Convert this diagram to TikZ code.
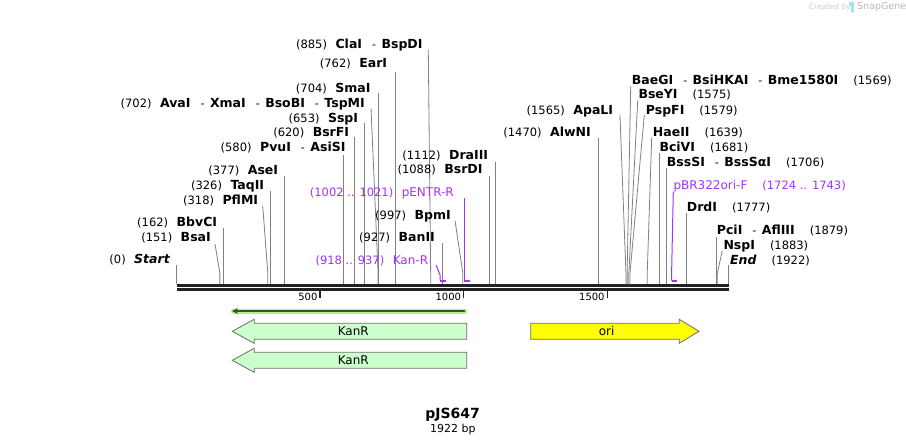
\documentclass[tikz,border=0pt]{standalone}
\usepackage{fontspec}
\setmainfont{DejaVu Sans}
\usetikzlibrary{arrows.meta}
\definecolor{primer}{RGB}{160,50,250}
\definecolor{kanfill}{RGB}{204,255,204}
\definecolor{orifill}{RGB}{255,255,0}
\definecolor{bone}{RGB}{34,34,34}
\definecolor{sitegray}{RGB}{128,128,128}
\definecolor{featedge}{RGB}{110,110,110}
\definecolor{halo}{RGB}{180,240,130}
\definecolor{darkleaf}{RGB}{64,80,56}
\newcommand{\ps}[1]{{\fontsize{11.5}{13}\selectfont(#1)}}
\newcommand{\enz}[1]{{\fontsize{12.5}{14}\selectfont\bfseries #1}}
\newcommand{\enzsep}{\hspace{10pt}-\hspace{5.5pt}}
\newcommand{\lgap}{\hspace{8.5pt}}
\newcommand{\rgap}{\hspace{15pt}}

\begin{document}
\begin{tikzpicture}[x=1pt, y=-1pt,
    site/.style={draw=sitegray, line width=0.8pt},
    lbl/.style={inner sep=0pt, font=\fontsize{11}{13}\selectfont},
    plabel/.style={lbl, text=primer},
    primerline/.style={draw=primer, line width=1pt},
    primerbar/.style={draw=primer, line width=2pt},
    feat/.style={draw=featedge, line width=0.8pt},
    tickmark/.style={draw=bone, line width=1.4pt}]
\useasboundingbox (0,0) rectangle (906,445);

% backbone
\draw[bone, line width=3pt] (176.5,285.8) -- (729,285.8);
\draw[bone, line width=2.4pt] (176.5,289.5) -- (729,289.5);
\foreach \v in {500,1000,1500}{
    \pgfmathsetmacro{\X}{176.5+0.2872*\v}
    \coordinate (k\v) at (\X,290.7);
    \draw[tickmark] (k\v) -- ++(0,7);
    \node[lbl, font=\fontsize{10}{12}\selectfont, anchor=east] (n\v) at (\X-2.5,296.7) {\v};
}

% sites, label on the left
\foreach \b/\dx/\yt/\rx/\cy/\t in {
    0/0/265/170/259.3/{\ps{0}\lgap\enz{\itshape Start}},
    151/-4.9/244/211/237.3/{\ps{151}\lgap\enz{BsaI}},
    162/0/228/217.3/221.7/{\ps{162}\lgap\enz{BbvCI}},
    318/-5.1/206/258.3/200/{\ps{318}\lgap\enz{PflMI}},
    326/0/191/264.3/185/{\ps{326}\lgap\enz{TaqII}},
    377/0/176/278.3/170/{\ps{377}\lgap\enz{AseI}},
    580/0/155/345.7/146.7/{\ps{580}\lgap\enz{PvuI}\enzsep\enz{AsiSI}},
    620/0/137.3/349.3/131.7/{\ps{620}\lgap\enz{BsrFI}},
    653/0/123.3/358.3/118.3/{\ps{653}\lgap\enz{SspI}},
    702/-7.1/108.3/365/103.3/{\ps{702}\lgap\enz{AvaI}\enzsep\enz{XmaI}\enzsep\enz{BsoBI}\enzsep\enz{TspMI}},
    704/0/93.3/370.7/88.3/{\ps{704}\lgap\enz{SmaI}},
    762/0/71.7/387.3/63.3/{\ps{762}\lgap\enz{EarI}},
    885/-2.4/49.3/422.7/44/{\ps{885}\lgap\enz{ClaI}\enzsep\enz{BspDI}},
    927/0/243.3/435/237.3/{\ps{927}\lgap\enz{BanII}},
    997/-7.8/220.7/451/215/{\ps{997}\lgap\enz{BpmI}},
    1088/0/176/482.7/169/{\ps{1088}\lgap\enz{BsrDI}},
    1112/0/161.7/488.3/155/{\ps{1112}\lgap\enz{DraIII}},
    1470/0/138.3/591/131.7/{\ps{1470}\lgap\enz{AlwNI}},
    1565/-6/115/613.3/110/{\ps{1565}\lgap\enz{ApaLI}}}{
    \pgfmathsetmacro{\X}{176.5+0.2872*\b}
    \node[lbl, anchor=base east] (l\b) at (\rx,\cy+4.4) {\t};
    \coordinate (s\b) at (\X,284.3);
    \coordinate (t\b) at ({\X+(\dx)},\yt);
    \draw[site] (t\b) -- ([yshift=11pt]s\b) -- (s\b);
}

% sites, label on the right
\foreach \b/\dx/\yt/\lx/\cy/\t in {
    1569/3.6/86/631.7/80/{\enz{BaeGI}\enzsep\enz{BsiHKAI}\enzsep\enz{Bme1580I}\rgap\ps{1569}},
    1575/8.9/100/638.3/94.3/{\enz{BseYI}\rgap\ps{1575}},
    1579/14.3/115/645.7/110/{\enz{PspFI}\rgap\ps{1579}},
    1639/4.5/137.3/652.7/131.7/{\enz{HaeII}\rgap\ps{1639}},
    1681/0/153.3/659.3/146.7/{\enz{BciVI}\rgap\ps{1681}},
    1706/0/168.3/666.7/161.7/{\enz{BssSI}\enzsep\enz{BssSαI}\rgap\ps{1706}},
    1777/0/212.7/686.7/206.7/{\enz{DrdI}\rgap\ps{1777}},
    1879/0/236.7/716.7/230/{\enz{PciI}\enzsep\enz{AflIII}\rgap\ps{1879}},
    1883/5/250.7/723.3/245/{\enz{NspI}\rgap\ps{1883}},
    1922/0/265/730/260/{\enz{\itshape End}\rgap\ps{1922}}}{
    \pgfmathsetmacro{\X}{176.5+0.2872*\b}
    \node[lbl, anchor=base west] (l\b) at (\lx,\cy+4.4) {\t};
    \coordinate (s\b) at (\X,284.3);
    \coordinate (t\b) at ({\X+(\dx)},\yt);
    \draw[site] (t\b) -- ([yshift=11pt]s\b) -- (s\b);
}

% primers
\node[plabel, anchor=base east] (pkan) at (428.3,264.4) {\ps{918 .. 937}\lgap{\fontsize{12}{14}\selectfont Kan-R}};
\coordinate (kana) at (440.1,280.7);
\coordinate (kanb) at (445.6,280.7);
\draw[primerline] (436,265) -- (440.1,275) -- (kana);
\draw[primerbar] (kana) -- (kanb);

\node[plabel, anchor=base east] (pentr) at (454,196.1) {\ps{1002 .. 1021}\lgap{\fontsize{12}{14}\selectfont pENTR-R}};
\coordinate (pentra) at (464.3,280.7);
\coordinate (pentrb) at (469.7,280.7);
\draw[primerline] (464.3,198.3) -- (pentra);
\draw[primerbar] (pentra) -- (pentrb);

\node[plabel, anchor=base west] (pbr) at (673.3,189.4) {{\fontsize{12}{14}\selectfont pBR322ori-F}\rgap\ps{1724 .. 1743}};
\coordinate (pbra) at (671.6,280.7);
\coordinate (pbrb) at (677.1,280.7);
\draw[primerline] (673.3,191.7) -- (671.6,273.3) -- (pbra);
\draw[primerbar] (pbra) -- (pbrb);

% features
\draw[halo, line width=5pt, line cap=round] (465,311) -- (233.5,311);
\draw[darkleaf, line width=2pt, -{Stealth[length=6pt, width=6pt]}] (465,311) -- (232,311);

\draw[feat, fill=kanfill] (466.7,323.3) -- (254.3,323.3) -- (254.3,319.2) -- (232.3,331.3)
    -- (254.3,343.4) -- (254.3,339.3) -- (466.7,339.3) -- cycle;
\node[lbl, font=\fontsize{12}{14}\selectfont] (kan1) at (353.3,331) {KanR};
\draw[feat, fill=kanfill] (466.7,352.3) -- (254.3,352.3) -- (254.3,348.2) -- (232.3,360.3)
    -- (254.3,372.4) -- (254.3,368.3) -- (466.7,368.3) -- cycle;
\node[lbl, font=\fontsize{12}{14}\selectfont] (kan2) at (353.3,360) {KanR};
\draw[feat, fill=orifill] (530.7,323.3) -- (679.3,323.3) -- (679.3,319.3) -- (699,331.3)
    -- (679.3,343.3) -- (679.3,339.3) -- (530.7,339.3) -- cycle;
\node[lbl, font=\fontsize{12}{14}\selectfont] (ori) at (606.7,331) {ori};

% title
\node[lbl, font=\fontsize{14}{16}\selectfont\bfseries] (title) at (452.7,414.3) {pJS647};
\node[lbl, font=\fontsize{11}{13}\selectfont] (size) at (452.8,429.8) {1922 bp};

% watermark
\node[lbl, anchor=west, text=gray!40, font=\fontsize{7.5}{9}\selectfont] (made) at (809,7) {Created by};
\fill[cyan!35] (849,2) -- (854,1.5) -- (854,12.5) -- (851,12.5) -- (851,6) -- (849,5.5) -- cycle;
\node[lbl, anchor=west, text=gray!55, font=\fontsize{9.5}{11}\selectfont] (sg) at (857,7) {SnapGene};
\end{tikzpicture}
\end{document}
